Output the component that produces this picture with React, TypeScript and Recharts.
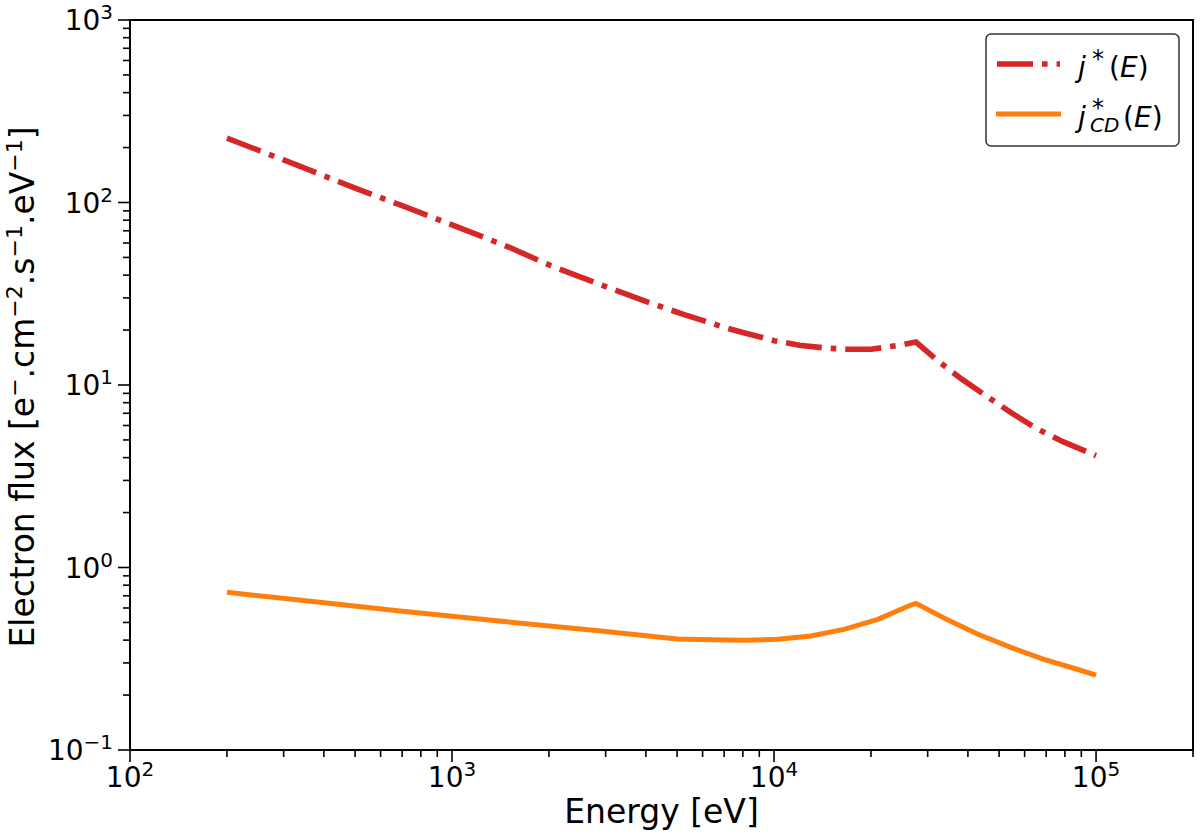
import React from "react";
import { LineChart, Line, XAxis, YAxis, ReferenceArea } from "recharts";

const FONT = "'DejaVu Sans', 'Liberation Sans', sans-serif";

// j*(E)
const jEnergy = [200, 300, 500, 700, 1000, 1500, 2000, 3000, 4000, 5260, 6000, 7000, 8000, 9000, 10000, 12000, 14700, 17000, 20000, 22200, 25000, 27600, 32200, 38200, 45000, 54300, 65000, 78900, 100000];
const jFlux = [225, 171, 120, 96, 75.4, 57, 45.5, 34.6, 28.7, 24.3, 22.6, 20.7, 19.4, 18.4, 17.5, 16.5, 15.9, 15.7, 15.7, 16.1, 16.6, 17.2, 13.6, 10.8, 8.85, 7.08, 5.8, 4.89, 4.1];

// j*_CD(E)
const jcdEnergy = [200, 340, 690, 1400, 2850, 5000, 6400, 8100, 10300, 13000, 16500, 21000, 26600, 27600, 33800, 42800, 54300, 68900, 87300, 100000];
const jcdFlux = [0.731, 0.661, 0.578, 0.509, 0.45, 0.406, 0.402, 0.399, 0.404, 0.421, 0.458, 0.52, 0.623, 0.636, 0.527, 0.432, 0.365, 0.314, 0.277, 0.257];

const xTicks = [100, 200, 300, 400, 500, 600, 700, 800, 900, 1000, 2000, 3000, 4000, 5000, 6000, 7000, 8000, 9000, 10000, 20000, 30000, 40000, 50000, 60000, 70000, 80000, 90000, 100000, 200000];
const xMajor = [100, 1000, 10000, 100000];
const xExponents = ["2", "3", "4", "5"];

const yTicks = [0.1, 0.2, 0.3, 0.4, 0.5, 0.6, 0.7, 0.8, 0.9, 1, 2, 3, 4, 5, 6, 7, 8, 9, 10, 20, 30, 40, 50, 60, 70, 80, 90, 100, 200, 300, 400, 500, 600, 700, 800, 900, 1000];
const yMajor = [0.1, 1, 10, 100, 1000];
const yExponents = ["\u22121", "0", "1", "2", "3"];

const jData = jEnergy.map((e, i) => ({ energy: e, flux: jFlux[i] }));
const jcdData = jcdEnergy.map((e, i) => ({ energy: e, flux: jcdFlux[i] }));

const RED = "#d62728";
const ORANGE = "#ff7f0e";

function XTick(props: any) {
  const { x, y, payload } = props;
  const idx = xMajor.indexOf(payload.value);
  const major = idx >= 0;
  return (
    <g>
      <line x1={x} x2={x} y1={y} y2={y + (major ? 12 : 7)} stroke="#000" strokeWidth={1.6} />
      {major && (
        <text x={x} y={y + 37} textAnchor="middle" fontSize={28} fontFamily={FONT} fill="#000">
          10<tspan dy={-11} fontSize={20}>{xExponents[idx]}</tspan>
        </text>
      )}
    </g>
  );
}

function YTick(props: any) {
  const { x, y, payload } = props;
  const idx = yMajor.indexOf(payload.value);
  const major = idx >= 0;
  return (
    <g>
      <line x1={x} x2={x - (major ? 12 : 7)} y1={y} y2={y} stroke="#000" strokeWidth={1.6} />
      {major && (
        <text x={x - 17} y={y + 10} textAnchor="end" fontSize={28} fontFamily={FONT} fill="#000">
          10<tspan dy={-11} fontSize={20}>{yExponents[idx]}</tspan>
        </text>
      )}
    </g>
  );
}

function XTitle(props: any) {
  const vb = props.viewBox;
  return (
    <text x={vb.x + vb.width / 2} y={vb.y + 73} textAnchor="middle" fontSize={33} fontFamily={FONT} fill="#000">
      Energy [eV]
    </text>
  );
}

function YTitle(props: any) {
  const vb = props.viewBox;
  const cx = 34;
  const cy = vb.y + vb.height / 2 + 2;
  return (
    <text x={cx} y={cy} transform={`rotate(-90 ${cx} ${cy})`} textAnchor="middle" fontSize={33} fontFamily={FONT} fill="#000">
      Electron flux [e
      <tspan dy={-12} fontSize={22}>{"\u2212"}</tspan>
      <tspan dy={12}>.cm</tspan>
      <tspan dy={-12} fontSize={22}>{"\u22122"}</tspan>
      <tspan dy={12}>.s</tspan>
      <tspan dy={-12} fontSize={22}>{"\u22121"}</tspan>
      <tspan dy={12}>.eV</tspan>
      <tspan dy={-12} fontSize={22}>{"\u22121"}</tspan>
      <tspan dy={12}>]</tspan>
    </text>
  );
}

function LegendBox() {
  return (
    <svg width={1200} height={836} style={{ position: "absolute", left: 0, top: 0, pointerEvents: "none" }}>
      <rect x={986} y={34} width={193} height={112} rx={5} fill="#fff" stroke="#333" strokeWidth={1.5} />
      <line x1={997} x2={1060} y1={64} y2={64} stroke={RED} strokeWidth={5.6} strokeDasharray="36 9 5.6 9" />
      <text fontFamily={FONT} fontSize={28} fill="#000">
        <tspan x={1078} y={77} fontStyle="italic">j</tspan>
        <tspan x={1092} y={67} fontSize={24}>*</tspan>
        <tspan x={1109} y={77}>(</tspan>
        <tspan fontStyle="italic">E</tspan>
        <tspan>)</tspan>
      </text>
      <line x1={996} x2={1061} y1={114} y2={114} stroke={ORANGE} strokeWidth={5} />
      <text fontFamily={FONT} fontSize={28} fill="#000">
        <tspan x={1078} y={127} fontStyle="italic">j</tspan>
        <tspan x={1092} y={116} fontSize={24}>*</tspan>
        <tspan x={1090} y={132} fontSize={20} fontStyle="italic">CD</tspan>
        <tspan x={1123} y={127}>(</tspan>
        <tspan fontStyle="italic">E</tspan>
        <tspan>)</tspan>
      </text>
    </svg>
  );
}

export default function App() {
  return (
    <div style={{ position: "absolute", left: 0, top: 0, width: 1200, height: 836, background: "#fff" }}>
      <LineChart width={1200} height={836} margin={{ top: 20, right: 7, bottom: 0, left: 0 }}>
        <XAxis
          dataKey="energy"
          type="number"
          scale="log"
          domain={[100, 200000]}
          allowDataOverflow
          ticks={xTicks}
          interval={0}
          tick={<XTick />}
          tickLine={false}
          tickSize={0}
          tickMargin={0}
          height={86}
          axisLine={{ stroke: "#000", strokeWidth: 2 }}
          label={<XTitle />}
        />
        <YAxis
          dataKey="flux"
          type="number"
          scale="log"
          domain={[0.1, 1000]}
          allowDataOverflow
          ticks={yTicks}
          interval={0}
          tick={<YTick />}
          tickLine={false}
          tickSize={0}
          tickMargin={0}
          width={130}
          axisLine={{ stroke: "#000", strokeWidth: 2 }}
          label={<YTitle />}
        />
        <ReferenceArea x1={100} x2={200000} y1={0.1} y2={1000} fill="none" fillOpacity={0} stroke="#000" strokeWidth={2} />
        <Line
          data={jData}
          dataKey="flux"
          type="linear"
          stroke={RED}
          strokeWidth={5.6}
          strokeDasharray="36 9 5.6 9"
          dot={false}
          activeDot={false}
          isAnimationActive={false}
        />
        <Line
          data={jcdData}
          dataKey="flux"
          type="linear"
          stroke={ORANGE}
          strokeWidth={5}
          dot={false}
          activeDot={false}
          isAnimationActive={false}
        />
      </LineChart>
      <LegendBox />
    </div>
  );
}
